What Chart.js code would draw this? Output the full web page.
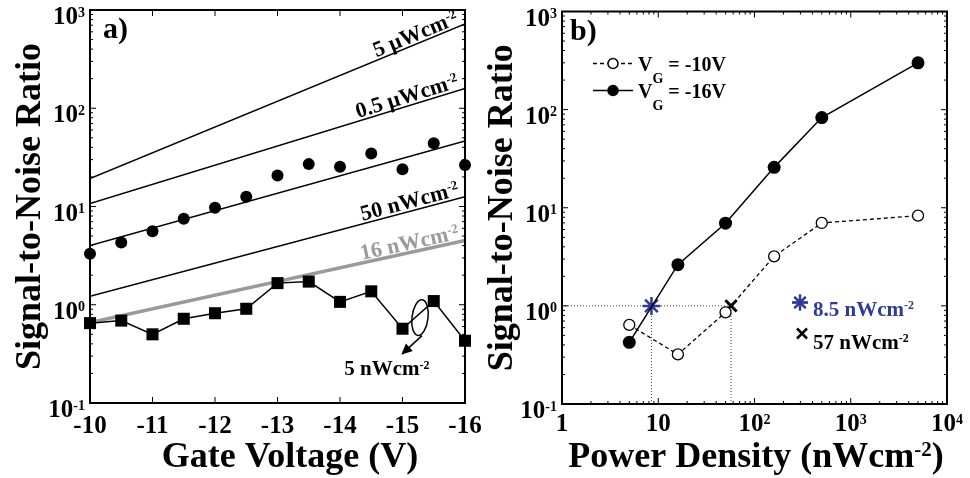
<!DOCTYPE html>
<html>
<head>
<meta charset="utf-8">
<script src="https://cdn.jsdelivr.net/npm/chart.js@4.4.1/dist/chart.umd.min.js"></script>
<style>
  body { margin: 0; background: #fff; }
  .panel { position: absolute; top: 0; width: 485px; height: 478px; }
</style>
</head>
<body>
<div class="panel" style="left:0"><canvas id="chartA" width="485" height="478"></canvas></div>
<div class="panel" style="left:485px"><canvas id="chartB" width="485" height="478"></canvas></div>
<script>
// ---- a) SNR vs gate voltage ----
const gateVoltage = [-10, -10.5, -11, -11.5, -12, -12.5, -13, -13.5, -14, -14.5, -15, -15.5, -16];
const snrDots = [3.3, 4.3, 5.6, 7.5, 9.7, 12.6, 20.7, 27, 25.4, 34.7, 24, 44, 26.4];
const snr5nW = [0.65, 0.69, 0.50, 0.72, 0.82, 0.91, 1.66, 1.72, 1.07, 1.37, 0.57, 1.09, 0.43];

// straight-line fits, end values at -10 V and -16 V
const fitVoltage = [-10, -16];
const fit5uW = [19.2, 720];
const fit500nW = [10.7, 159];
const fitDots = [4.0, 46.4];
const fit50nW = [1.22, 12.6];
const fit16nW = [0.66, 4.5];

const gateTicks = [-10, -11, -12, -13, -14, -15, -16];
const gateTickLabels = ['-10', '-11', '-12', '-13', '-14', '-15', '-16'];
const snrDecades = [0.1, 1, 10, 100, 1000];
const snrTickLabels = ['10^{-1}', '10^{0}', '10^{1}', '10^{2}', '10^{3}'];

// ---- b) SNR vs power density ----
const powerDensity = [5, 16, 50, 160, 500, 5000];
const snrVg10 = [0.64, 0.32, 0.86, 3.2, 7.0, 8.3];
const snrVg16 = [0.425, 2.63, 6.96, 25.8, 83, 300];
const powerDecades = [1, 10, 100, 1000, 10000];
const powerTickLabels = ['1', '10', '10^{2}', '10^{3}', '10^{4}'];
const thresholdVg16 = 8.5;
const thresholdVg10 = 57;
const thresholdSnr = 1;

const FONT = '"Liberation Serif", "DejaVu Serif", serif';
const BLUE = '#2f3b96';
const GREY = '#9a9a9a';

const pts = (xs, ys) => xs.map((x, i) => ({ x, y: ys[i] }));

// decade ticks plus 2..9 minor ticks between them
function logTicks(decades) {
  const out = [];
  decades.forEach((d, i) => {
    out.push({ value: d, major: true });
    if (i < decades.length - 1) {
      for (let m = 2; m <= 9; m++) out.push({ value: d * m, major: false });
    }
  });
  return out;
}

// text with ^{..} superscripts and _{..} subscripts
function segments(str) {
  const out = [];
  const re = /([_^])\{([^}]*)\}|([^_^]+)/g;
  let m;
  while ((m = re.exec(str))) {
    if (m[3]) out.push({ text: m[3], mode: 0 });
    else out.push({ text: m[2], mode: m[1] === '^' ? 1 : -1 });
  }
  return out;
}

function drawRich(ctx, str, x, y, size, align, color) {
  const segs = segments(str);
  const fontFor = mode => `bold ${mode === 1 ? Math.round(size * 0.58) : mode === -1 ? Math.round(size * 0.72) : size}px ${FONT}`;
  let total = 0;
  segs.forEach(s => {
    ctx.font = fontFor(s.mode);
    s.w = ctx.measureText(s.text).width;
    total += s.w;
  });
  let cx = align === 'center' ? x - total / 2 : align === 'right' ? x - total : x;
  ctx.fillStyle = color || '#000';
  ctx.textAlign = 'left';
  ctx.textBaseline = 'alphabetic';
  segs.forEach(s => {
    ctx.font = fontFor(s.mode);
    const dy = s.mode === 1 ? -size * 0.3 : s.mode === -1 ? size * 0.6 : 0;
    ctx.fillText(s.text, cx, y + dy);
    cx += s.w;
  });
  return total;
}

// box, inward ticks on all four sides, tick labels and axis titles
const framePlugin = {
  id: 'frame',
  afterDatasetsDraw(chart, args, o) {
    const { ctx, chartArea: a, scales: { x, y } } = chart;
    ctx.save();
    ctx.strokeStyle = '#000';
    ctx.lineWidth = 1;
    ctx.beginPath();
    x.ticks.forEach(t => {
      const px = x.getPixelForValue(t.value);
      const len = t.major ? 6 : 3;
      ctx.moveTo(px, a.bottom); ctx.lineTo(px, a.bottom - len);
      ctx.moveTo(px, a.top); ctx.lineTo(px, a.top + len);
    });
    y.ticks.forEach(t => {
      const py = y.getPixelForValue(t.value);
      const len = t.major ? 6 : 3;
      ctx.moveTo(a.left, py); ctx.lineTo(a.left + len, py);
      ctx.moveTo(a.right, py); ctx.lineTo(a.right - len, py);
    });
    ctx.stroke();
    ctx.lineWidth = 2;
    ctx.strokeRect(a.left, a.top, a.right - a.left, a.bottom - a.top);

    o.xLabels.forEach((txt, i) => {
      drawRich(ctx, txt, x.getPixelForValue(o.xValues[i]), a.bottom + o.xLabelDrop, 25, 'center');
    });
    o.yLabels.forEach((txt, i) => {
      drawRich(ctx, txt, a.left - 5, y.getPixelForValue(o.yValues[i]) + 14, 25, 'right');
    });

    drawRich(ctx, o.xTitle, o.xTitleX, 467, 36, 'center');
    ctx.translate(o.yTitleX, (a.top + a.bottom) / 2);
    ctx.rotate(-Math.PI / 2);
    drawRich(ctx, o.yTitle, 0, 0, 36, 'center');
    ctx.restore();

    ctx.save();
    drawRich(ctx, o.panel, a.left + o.panelDx, a.top + 28, 30, 'left');
    ctx.restore();
  }
};

// labels written along the fitted lines
const fitLabelPlugin = {
  id: 'fitLabels',
  afterDatasetsDraw(chart, args, o) {
    const { ctx, scales: { x, y } } = chart;
    chart.data.datasets.forEach(ds => {
      if (!ds.tag) return;
      const x0 = x.getPixelForValue(ds.data[0].x), y0 = y.getPixelForValue(ds.data[0].y);
      const x1 = x.getPixelForValue(ds.data[1].x), y1 = y.getPixelForValue(ds.data[1].y);
      const px = x.getPixelForValue(o.anchor);
      const py = y0 + (y1 - y0) * (px - x0) / (x1 - x0);
      ctx.save();
      ctx.translate(px, py);
      ctx.rotate(Math.atan2(y1 - y0, x1 - x0));
      drawRich(ctx, ds.tag, 0, -3, 22, 'right', ds.tagColor || '#000');
      ctx.restore();
    });

    // ellipse marking the 5 nW curve, with arrow to its label
    const ex = x.getPixelForValue(-15.28), ey = y.getPixelForValue(0.74);
    const tipX = x.getPixelForValue(-14.98), tipY = y.getPixelForValue(0.31);
    ctx.save();
    ctx.strokeStyle = '#000';
    ctx.fillStyle = '#000';
    ctx.lineWidth = 1.5;
    ctx.beginPath();
    ctx.ellipse(ex, ey, 8, 18, 0.12, 0, Math.PI * 2);
    ctx.stroke();
    const sx = ex + 2, sy = ey + 18;
    const ang = Math.atan2(tipY - sy, tipX - sx);
    ctx.beginPath();
    ctx.moveTo(sx, sy);
    ctx.lineTo(tipX - 6 * Math.cos(ang), tipY - 6 * Math.sin(ang));
    ctx.stroke();
    ctx.beginPath();
    ctx.moveTo(tipX, tipY);
    ctx.lineTo(tipX - 11 * Math.cos(ang) + 5 * Math.sin(ang), tipY - 11 * Math.sin(ang) - 5 * Math.cos(ang));
    ctx.lineTo(tipX - 11 * Math.cos(ang) - 5 * Math.sin(ang), tipY - 11 * Math.sin(ang) + 5 * Math.cos(ang));
    ctx.closePath();
    ctx.fill();
    drawRich(ctx, '5 nWcm^{-2}', x.getPixelForValue(-14.75), y.getPixelForValue(0.193), 21, 'center');
    ctx.restore();
  }
};

// legend and threshold notes for panel b
const notesPlugin = {
  id: 'notes',
  afterDatasetsDraw(chart) {
    const { ctx, chartArea: a } = chart;
    const rows = [
      { ds: chart.data.datasets[1], text: 'V_{G} = -10V', dy: 52 },
      { ds: chart.data.datasets[0], text: 'V_{G} = -16V', dy: 79 }
    ];
    rows.forEach(r => {
      const yy = a.top + r.dy;
      ctx.save();
      ctx.strokeStyle = '#000';
      ctx.lineWidth = 1.5;
      ctx.setLineDash(r.ds.borderDash || []);
      ctx.beginPath();
      ctx.moveTo(a.left + 31, yy);
      ctx.lineTo(a.left + 71, yy);
      ctx.stroke();
      ctx.setLineDash([]);
      ctx.fillStyle = r.ds.pointBackgroundColor;
      ctx.beginPath();
      ctx.arc(a.left + 51, yy, 5, 0, Math.PI * 2);
      ctx.fill();
      ctx.stroke();
      drawRich(ctx, r.text, a.left + 76, yy + 7, 20, 'left');
      ctx.restore();
    });

    ctx.save();
    Chart.helpers.drawPoint(ctx, { pointStyle: 'star', radius: 8, rotation: 0, borderWidth: 2.5 }, a.left + 238, a.top + 291);
    ctx.strokeStyle = BLUE;
    ctx.lineWidth = 2.5;
    ctx.stroke();
    drawRich(ctx, thresholdVg16 + ' nWcm^{-2}', a.left + 251, a.top + 304, 21, 'left', BLUE);
    ctx.beginPath();
    ctx.strokeStyle = '#000';
    ctx.lineWidth = 2.5;
    ctx.moveTo(a.left + 235, a.top + 317); ctx.lineTo(a.left + 245, a.top + 327);
    ctx.moveTo(a.left + 245, a.top + 317); ctx.lineTo(a.left + 235, a.top + 327);
    ctx.stroke();
    drawRich(ctx, thresholdVg10 + ' nWcm^{-2}', a.left + 251, a.top + 337, 21, 'left');
    ctx.restore();
  }
};

const fitLine = (ys, tag, extra) => Object.assign({
  data: pts(fitVoltage, ys), tag, borderColor: '#000', borderWidth: 1.5,
  pointRadius: 0, fill: false, tension: 0
}, extra);

new Chart(document.getElementById('chartA'), {
  type: 'line',
  data: {
    datasets: [
      { data: pts(gateVoltage, snr5nW), borderColor: '#000', borderWidth: 1.5, pointStyle: 'rect',
        pointRadius: 8.5, pointBackgroundColor: '#000', pointBorderWidth: 0, clip: false },
      { data: pts(gateVoltage, snrDots), showLine: false, pointStyle: 'circle', pointRadius: 6,
        pointBackgroundColor: '#000', pointBorderWidth: 0, clip: false },
      fitLine(fit5uW, '5 μWcm^{-2}'),
      fitLine(fit500nW, '0.5 μWcm^{-2}'),
      fitLine(fitDots, null),
      fitLine(fit50nW, '50 nWcm^{-2}'),
      fitLine(fit16nW, '16 nWcm^{-2}', { borderColor: GREY, borderWidth: 3.5, tagColor: GREY })
    ]
  },
  options: {
    responsive: false,
    animation: false,
    layout: { padding: { top: 10, right: 20, left: 0, bottom: 0 } },
    plugins: {
      legend: { display: false },
      tooltip: { enabled: false },
      frame: {
        xValues: gateTicks, xLabels: gateTickLabels, xLabelDrop: 30,
        yValues: snrDecades, yLabels: snrTickLabels,
        xTitle: 'Gate Voltage (V)', xTitleX: 290,
        yTitle: 'Signal-to-Noise Ratio', yTitleX: 40,
        panel: 'a)', panelDx: 13
      },
      fitLabels: { anchor: -15.93 }
    },
    scales: {
      x: {
        type: 'linear', min: -16, max: -10, reverse: true,
        grid: { display: false }, border: { display: false }, ticks: { display: false },
        afterBuildTicks: s => { s.ticks = gateTicks.map(v => ({ value: v, major: true })); },
        afterFit: s => { s.height = 75; }
      },
      y: {
        type: 'logarithmic', min: 0.1, max: 1000,
        grid: { display: false }, border: { display: false }, ticks: { display: false },
        afterBuildTicks: s => { s.ticks = logTicks(snrDecades); },
        afterFit: s => { s.width = 90; }
      }
    }
  },
  plugins: [framePlugin, fitLabelPlugin]
});

new Chart(document.getElementById('chartB'), {
  type: 'line',
  data: {
    datasets: [
      { data: pts(powerDensity, snrVg16), borderColor: '#000', borderWidth: 1.5, pointRadius: 6.5,
        pointBackgroundColor: '#000', pointBorderColor: '#000', pointBorderWidth: 0, clip: false },
      { data: pts(powerDensity, snrVg10), borderColor: '#000', borderWidth: 1.3, borderDash: [4, 3],
        pointRadius: 5.5, pointBackgroundColor: '#fff', pointBorderColor: '#000', pointBorderWidth: 1.3, clip: false },
      { data: [{ x: thresholdVg16, y: thresholdSnr }], showLine: false, pointStyle: 'star', pointRadius: 9,
        pointBorderColor: BLUE, pointBorderWidth: 2.5, clip: false },
      { data: [{ x: thresholdVg10, y: thresholdSnr }], showLine: false, pointStyle: 'crossRot', pointRadius: 8,
        pointBorderColor: '#000', pointBorderWidth: 3, clip: false },
      { data: [{ x: 1, y: thresholdSnr }, { x: thresholdVg10, y: thresholdSnr }], borderColor: '#444',
        borderWidth: 1, borderDash: [1, 2], pointRadius: 0 },
      { data: [{ x: thresholdVg16, y: 0.1 }, { x: thresholdVg16, y: thresholdSnr }], borderColor: '#444',
        borderWidth: 1, borderDash: [1, 2], pointRadius: 0 },
      { data: [{ x: thresholdVg10, y: 0.1 }, { x: thresholdVg10, y: thresholdSnr }], borderColor: '#444',
        borderWidth: 1, borderDash: [1, 2], pointRadius: 0 }
    ]
  },
  options: {
    responsive: false,
    animation: false,
    layout: { padding: { top: 10, right: 23, left: 0, bottom: 0 } },
    plugins: {
      legend: { display: false },
      tooltip: { enabled: false },
      frame: {
        xValues: powerDecades, xLabels: powerTickLabels, xLabelDrop: 27,
        yValues: snrDecades, yLabels: snrTickLabels,
        xTitle: 'Power Density (nWcm^{-2})', xTitleX: 271,
        yTitle: 'Signal-to-Noise Ratio', yTitleX: 27,
        panel: 'b)', panelDx: 8
      }
    },
    scales: {
      x: {
        type: 'logarithmic', min: 1, max: 10000,
        grid: { display: false }, border: { display: false }, ticks: { display: false },
        afterBuildTicks: s => { s.ticks = logTicks(powerDecades); },
        afterFit: s => { s.height = 74; }
      },
      y: {
        type: 'logarithmic', min: 0.1, max: 1000,
        grid: { display: false }, border: { display: false }, ticks: { display: false },
        afterBuildTicks: s => { s.ticks = logTicks(snrDecades); },
        afterFit: s => { s.width = 77; }
      }
    }
  },
  plugins: [framePlugin, notesPlugin]
});
</script>
</body>
</html>
